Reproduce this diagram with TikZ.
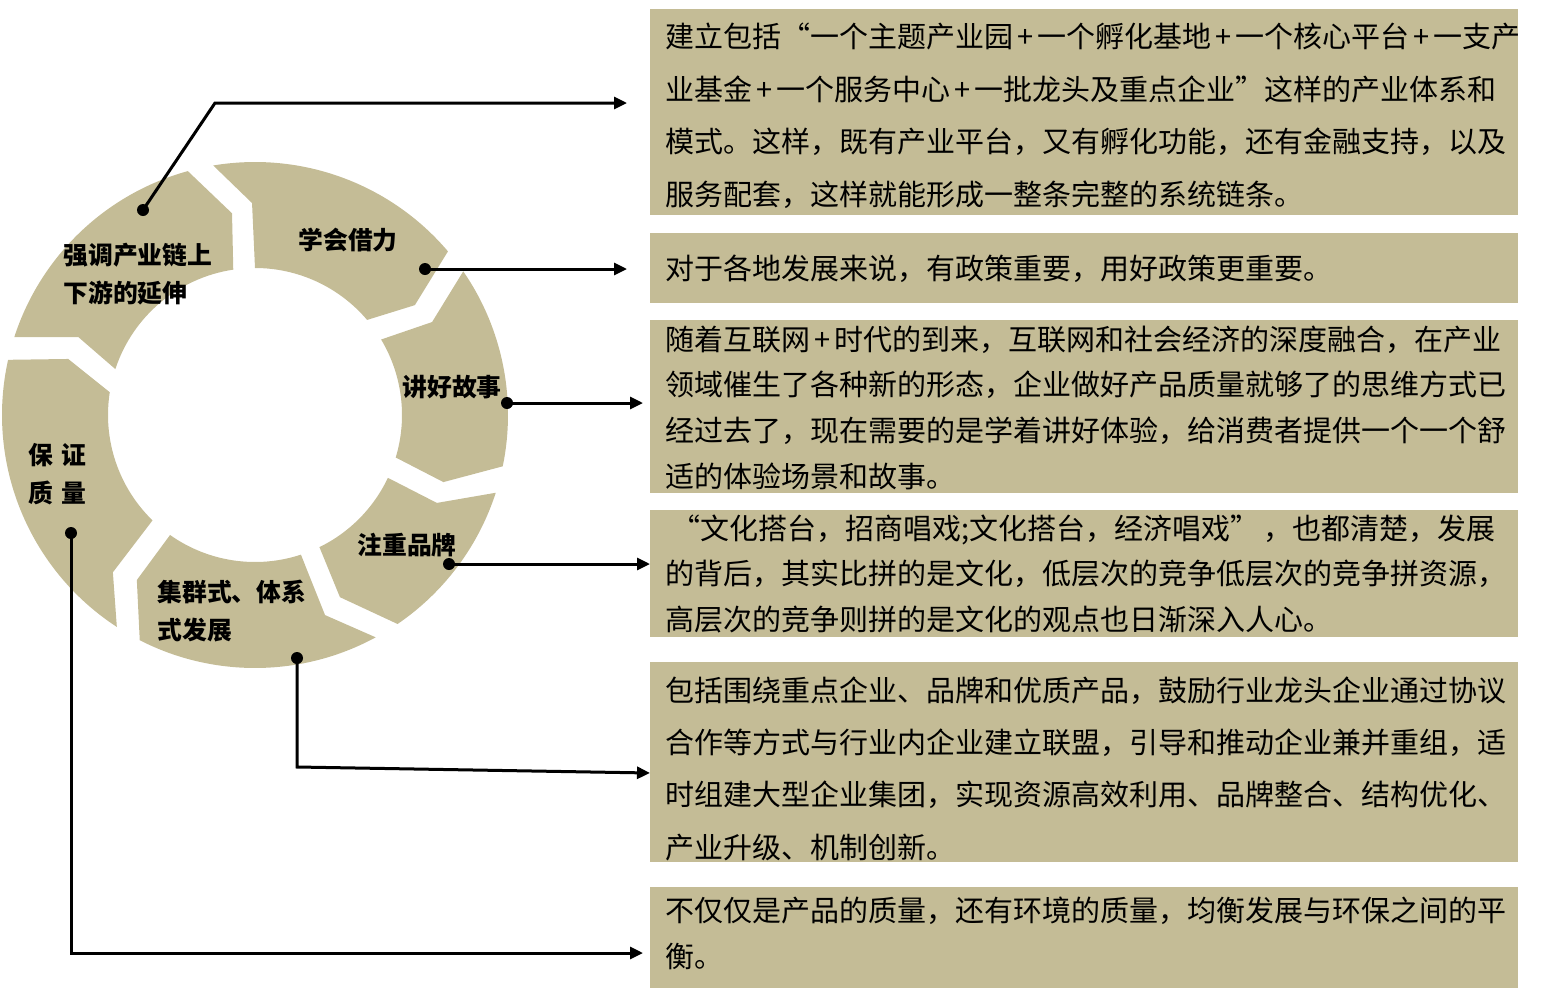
\documentclass[tikz,border=0pt]{standalone}
\usepackage{fontspec}
\setmainfont{Noto Sans CJK SC}
\usetikzlibrary{arrows.meta}
\definecolor{ringtan}{HTML}{C4BC96}
\newcommand\wplus{\kern2pt+\kern2pt}
\newcommand\ringseg[8]{%
  \fill[ringtan] (#1:253) arc[start angle=#1,end angle=#2,radius=253]
    -- (#3:#4) -- (#5:147) arc[start angle=#5,end angle=#6,radius=147]
    -- (#7:#8) -- cycle;}
\tikzset{
  box/.style={fill=ringtan,draw=none,minimum width=434pt,inner sep=0pt,anchor=north west},
  txt/.style={anchor=west,inner sep=0pt,align=left,text=black},
  lab/.style={inner sep=0pt,align=left,font=\bfseries\fontsize{12.4pt}{19pt}\selectfont},
  dot/.style={circle,fill=black,inner sep=0pt,minimum size=6pt},
  conn/.style={line width=1.5pt,-{Triangle[length=6.5pt,width=6pt]}}
}
\begin{document}
\begin{tikzpicture}[x=0.5pt,y=-0.5pt]
\useasboundingbox (0,0) rectangle (1542,991);
% ring
\begin{scope}[shift={(255,415)},yscale=-1]
  \ringseg{162.1}{105.4}{96.5}{203}{98.5}{161.8}{156.2}{193}
  \ringseg{99.5}{40.3}{34.5}{194}{40.3}{90}{90.8}{212}
  \ringseg{34.6}{-11.7}{-19.6}{200}{-16.8}{30.9}{27.7}{200}
  \ringseg{-17.9}{-55.7}{-65}{201}{-64}{-25.3}{-25.8}{202}
  \ringseg{-61.5}{-117.1}{-125.6}{203}{-125.3}{-71.8}{-70.7}{212}
  \ringseg{-123.1}{-192.6}{-196.7}{195}{-188.9}{-134.2}{-132.1}{212}
\end{scope}
% ring labels
\node[lab,anchor=west] (lA) at (63,274) {强调产业链上\\下游的延伸};
\node[lab] (lB) at (348,240) {学会借力};
\node[lab] (lC) at (452,387) {讲好故事};
\node[lab] (lD) at (407,545) {注重品牌};
\node[lab,anchor=west] (lE) at (157,611) {集群式、体系\\式发展};
\node[lab,anchor=west] (lF) at (28,474) {保\hspace{4pt}证\\质\hspace{4pt}量};
% boxes
\node[box,minimum height=103pt] (b1) at (650,9) {};
\node[box,minimum height=35pt] (b2) at (650,233) {};
\node[box,minimum height=86.5pt] (b3) at (650,320) {};
\node[box,minimum height=63.5pt] (b4) at (650,510) {};
\node[box,minimum height=100pt] (b5) at (650,662) {};
\node[box,minimum height=50.5pt] (b6) at (650,887) {};
% box texts
\node[txt,font=\fontsize{14.5pt}{26.25pt}\selectfont] (t1) at (665,116)
 {建立包括“一个主题产业园\wplus 一个孵化基地\wplus 一个核心平台\wplus 一支产\\
  业基金\wplus 一个服务中心\wplus 一批龙头及重点企业”这样的产业体系和\\
  模式。这样，既有产业平台，又有孵化功能，还有金融支持，以及\\
  服务配套，这样就能形成一整条完整的系统链条。};
\node[txt,font=\fontsize{14.5pt}{22.85pt}\selectfont] (t2) at (665,269)
 {对于各地发展来说，有政策重要，用好政策更重要。};
\node[txt,font=\fontsize{14.5pt}{22.85pt}\selectfont] (t3) at (665,407.5)
 {随着互联网\wplus 时代的到来，互联网和社会经济的深度融合，在产业\\
  领域催生了各种新的形态，企业做好产品质量就够了的思维方式已\\
  经过去了，现在需要的是学着讲好体验，给消费者提供一个一个舒\\
  适的体验场景和故事。};
\node[txt,font=\fontsize{14.5pt}{22.75pt}\selectfont] (t4) at (665,573.5)
 {\hspace{3pt}“文化搭台，招商唱戏;文化搭台，经济唱戏”\hspace{2pt}，也都清楚，发展\\
  的背后，其实比拼的是文化，低层次的竞争低层次的竞争拼资源，\\
  高层次的竞争则拼的是文化的观点也日渐深入人心。};
\node[txt,font=\fontsize{14.5pt}{26.15pt}\selectfont] (t5) at (665,768.5)
 {包括围绕重点企业、品牌和优质产品，鼓励行业龙头企业通过协议\\
  合作等方式与行业内企业建立联盟，引导和推动企业兼并重组，适\\
  时组建大型企业集团，实现资源高效利用、品牌整合、结构优化、\\
  产业升级、机制创新。};
\node[txt,font=\fontsize{14.5pt}{23pt}\selectfont] (t6) at (665,933)
 {不仅仅是产品的质量，还有环境的质量，均衡发展与环保之间的平\\
  衡。};
% dots
\node[dot] (d1) at (143,210) {};
\node[dot] (d2) at (425,269) {};
\node[dot] (d3) at (507,403) {};
\node[dot] (d4) at (449,564) {};
\node[dot] (d5) at (297,658) {};
\node[dot] (d6) at (71,533) {};
% connector bends and free ends
\coordinate (k1) at (215,103);
\coordinate (e1) at (627,103);
\coordinate (e2) at (627,269);
\coordinate (e3) at (643,403);
\coordinate (e4) at (650,564);
\coordinate (k5) at (297,767);
\coordinate (e5) at (650,773);
\coordinate (k6) at (71,953);
\coordinate (e6) at (643,953);
\draw[conn] (d1.center) -- (k1) -- (e1);
\draw[conn] (d2.center) -- (e2);
\draw[conn] (d3.center) -- (e3);
\draw[conn] (d4.center) -- (e4);
\draw[conn] (d5.center) -- (k5) -- (e5);
\draw[conn] (d6.center) -- (k6) -- (e6);
\end{tikzpicture}
\end{document}
